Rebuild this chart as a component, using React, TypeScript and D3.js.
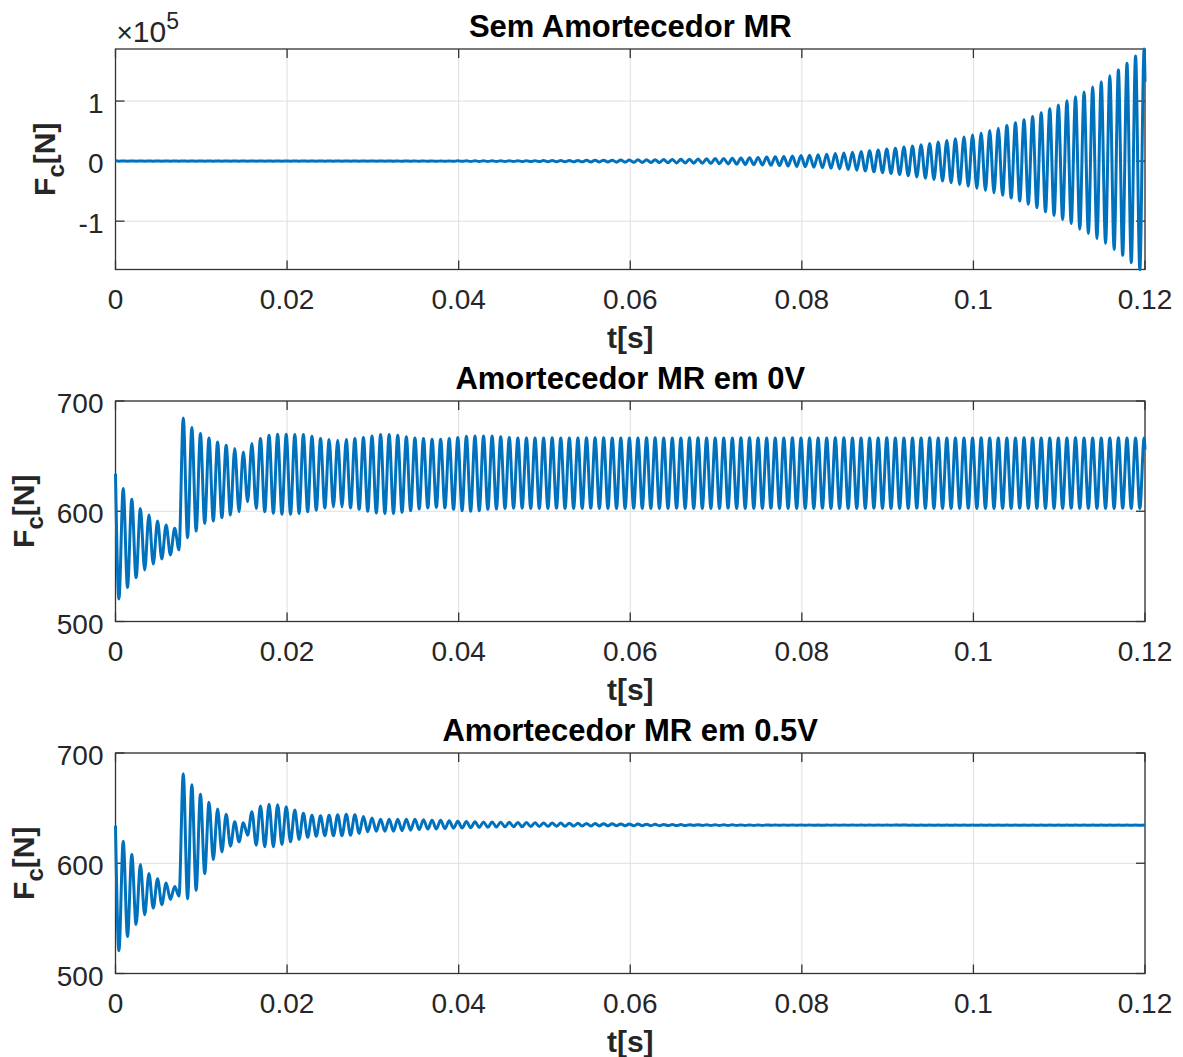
import React from "react";
import * as d3 from "d3";

// ---------------- data ----------------
const T_END = 0.12; // s
const PERIOD = 0.001; // s, oscillation period (about 120 cycles over 0.12 s)
const FIRST_TROUGH = 0.0004; // s, time of the first trough

const titles = ["Sem Amortecedor MR", "Amortecedor MR em 0V", "Amortecedor MR em 0.5V"];
const xTicks = [0, 0.02, 0.04, 0.06, 0.08, 0.1, 0.12];
const xTickLabels = ["0", "0.02", "0.04", "0.06", "0.08", "0.1", "0.12"];
const xLabel = "t[s]";
const sub1YTicks = [-1, 0, 1]; // ×10^5
const sub1YDomain = [-1.805, 1.867];
const mrYTicks = [500, 600, 700];
const mrYDomain = [500, 700];

// Subplot 1 (×10^5 N): start value, per-cycle troughs and peaks, end value
const sub1Start = 0.00634;
const sub1End = 1.32;
const sub1Troughs = [
  -0.001, -0.001, -0.001, -0.001, -0.001, -0.001, -0.001, -0.001, -0.001, -0.001,
  -0.001, -0.001, -0.0011, -0.0011, -0.0012, -0.0012, -0.0013, -0.0013, -0.0014, -0.0014,
  -0.0015, -0.0016, -0.0016, -0.0017, -0.0018, -0.0019, -0.002, -0.0021, -0.0022, -0.0023,
  -0.0024, -0.0025, -0.0027, -0.0029, -0.003, -0.0032, -0.0034, -0.0036, -0.0038, -0.004,
  -0.0042, -0.0045, -0.0048, -0.0052, -0.0056, -0.0061, -0.0066, -0.0071, -0.0077, -0.0083,
  -0.009, -0.0097, -0.0105, -0.0115, -0.0125, -0.0135, -0.0145, -0.0155, -0.017, -0.0185,
  -0.02, -0.0215, -0.023, -0.025, -0.027, -0.0295, -0.032, -0.0345, -0.0375, -0.0405,
  -0.0435, -0.047, -0.051, -0.055, -0.0595, -0.0645, -0.0695, -0.075, -0.0815, -0.0885,
  -0.0955, -0.103, -0.111, -0.12, -0.13, -0.14, -0.152, -0.164, -0.178, -0.192,
  -0.208, -0.225, -0.243, -0.263, -0.284, -0.307, -0.332, -0.359, -0.388, -0.419,
  -0.453, -0.489, -0.528, -0.57, -0.616, -0.665, -0.717, -0.775, -0.844, -0.906,
  -0.972, -1.039, -1.133, -1.206, -1.289, -1.372, -1.472, -1.572, -1.689, -1.806,
];
const sub1Peaks = [
  0.001, 0.001, 0.001, 0.001, 0.001, 0.001, 0.001, 0.001, 0.001, 0.001,
  0.001, 0.001, 0.0011, 0.0011, 0.0012, 0.0012, 0.0013, 0.0013, 0.0014, 0.0015,
  0.0016, 0.0016, 0.0017, 0.0018, 0.0019, 0.002, 0.0021, 0.0022, 0.0023, 0.0024,
  0.0025, 0.0026, 0.0028, 0.003, 0.0031, 0.0033, 0.0035, 0.0037, 0.0039, 0.0041,
  0.0043, 0.0047, 0.005, 0.0054, 0.0059, 0.0064, 0.0069, 0.0074, 0.008, 0.0087,
  0.0094, 0.01, 0.011, 0.012, 0.013, 0.014, 0.015, 0.016, 0.018, 0.019,
  0.021, 0.022, 0.024, 0.026, 0.028, 0.031, 0.033, 0.036, 0.039, 0.042,
  0.045, 0.049, 0.053, 0.057, 0.062, 0.067, 0.072, 0.078, 0.085, 0.092,
  0.099, 0.107, 0.116, 0.125, 0.135, 0.146, 0.158, 0.171, 0.185, 0.2,
  0.216, 0.234, 0.253, 0.273, 0.295, 0.319, 0.345, 0.373, 0.403, 0.436,
  0.47, 0.508, 0.548, 0.592, 0.64, 0.69, 0.745, 0.806, 0.872, 0.933,
  1.006, 1.072, 1.15, 1.233, 1.322, 1.422, 1.517, 1.628, 1.75, 1.867,
];

// Subplot 2 (N): MR damper at 0 V
const sub2Start = 634;
const sub2End = 656;
const sub2Troughs = [
  520.5, 530.8, 539.8, 546.8, 552.2, 556.7, 560.4, 564.9, 576, 582,
  589, 591.1, 594.1, 596.6, 599.6, 608.6, 602.6, 599.6, 598.1, 597.2,
  597.2, 598, 599.5, 601, 603, 604, 604, 603, 601.5, 600,
  598.5, 598, 598, 599, 600.5, 602, 603, 603.5, 603, 601.5,
  600.5, 600, 600.5, 601.5, 602, 602.5, 602.8, 602.8, 602.6, 602.5,
  602.6, 602.7, 602.6, 602.5, 602.6, 602.7, 602.6, 602.5, 602.5, 602.6,
  602.7, 602.6, 602.6, 602.5, 602.6, 602.7, 602.6, 602.6, 602.5, 602.6,
  602.6, 602.7, 602.6, 602.5, 602.6, 602.6, 602.7, 602.6, 602.6, 602.5,
  602.6, 602.6, 602.7, 602.6, 602.5, 602.6, 602.6, 602.6, 602.7, 602.6,
  602.5, 602.6, 602.6, 602.7, 602.6, 602.6, 602.5, 602.6, 602.6, 602.7,
  602.6, 602.6, 602.5, 602.6, 602.6, 602.7, 602.6, 602.6, 602.5, 602.6,
  602.6, 602.7, 602.6, 602.6, 602.5, 602.6, 602.6, 602.7, 602.6, 602.6,
];
const sub2Peaks = [
  620.7, 610.8, 602.6, 596.6, 591.1, 587.5, 584.5, 684.6, 675.9, 670.5,
  666.5, 662.9, 659.9, 656.9, 653.8, 661.4, 666, 669, 669.9, 669.9,
  669.6, 669.6, 668, 666, 665, 664.4, 665, 666, 666.9, 668.3,
  669.6, 669.6, 669, 667.5, 666.5, 666, 665.4, 665.4, 666, 666.9,
  668, 668.3, 668.3, 668.3, 667.5, 667, 666.5, 666.5, 666.5, 666.5,
  666.6, 666.5, 666.4, 666.5, 666.6, 666.7, 666.6, 666.5, 666.4, 666.4,
  666.5, 666.6, 666.6, 666.5, 666.4, 666.5, 666.6, 666.6, 666.5, 666.5,
  666.4, 666.5, 666.6, 666.6, 666.5, 666.4, 666.5, 666.5, 666.6, 666.5,
  666.5, 666.4, 666.5, 666.6, 666.6, 666.5, 666.5, 666.4, 666.5, 666.6,
  666.5, 666.5, 666.4, 666.5, 666.6, 666.5, 666.5, 666.5, 666.4, 666.5,
  666.6, 666.5, 666.5, 666.4, 666.5, 666.6, 666.5, 666.5, 666.5, 666.4,
  666.5, 666.6, 666.5, 666.5, 666.4, 666.5, 666.6, 666.5, 666.5, 666.5,
];

// Subplot 3 (N): MR damper at 0.5 V
const sub3Start = 634;
const sub3End = 634.6;
const sub3Troughs = [
  520.7, 533.5, 544.4, 553.2, 559.3, 562.4, 567.2, 570.2, 567.8, 575.4,
  590.6, 603.4, 610.3, 615.5, 619.4, 625.5, 616.4, 614.9, 614.9, 617,
  619.4, 621.6, 623.5, 624.5, 625, 625, 625, 625.5, 627, 628.5,
  629, 629, 629, 629.5, 630, 630.5, 631, 631, 631.5, 631.8,
  632, 632.2, 632.5, 632.6, 632.8, 633, 633.1, 633.2, 633.3, 633.4,
  633.5, 633.6, 633.6, 633.7, 633.8, 633.8, 633.9, 633.9, 634, 634,
  634, 634.1, 634.1, 634.1, 634.2, 634.2, 634.2, 634.3, 634.3, 634.3,
  634.3, 634.3, 634.35, 634.35, 634.35, 634.35, 634.4, 634.4, 634.4, 634.4,
  634.4, 634.4, 634.4, 634.45, 634.45, 634.45, 634.45, 634.45, 634.45, 634.45,
  634.45, 634.5, 634.5, 634.5, 634.5, 634.5, 634.5, 634.5, 634.5, 634.5,
  634.5, 634.5, 634.5, 634.5, 634.5, 634.5, 634.5, 634.5, 634.5, 634.5,
  634.5, 634.5, 634.5, 634.5, 634.5, 634.5, 634.5, 634.5, 634.5, 634.5,
];
const sub3Peaks = [
  620, 607.9, 598.8, 590.6, 586, 582, 579, 681.1, 671.1, 662.6,
  655.3, 649.2, 644.4, 637.6, 636.7, 646.8, 652, 653.5, 653, 651.3,
  648.3, 645.3, 643.5, 643, 643.5, 644, 644.5, 644, 642.5, 641,
  640, 640, 640, 640, 640, 639.5, 639, 639, 638.5, 638,
  637.8, 637.6, 637.5, 637.4, 637.3, 637.2, 637, 637, 636.8, 636.6,
  636.5, 636.4, 636.3, 636.2, 636.1, 636, 635.9, 635.8, 635.7, 635.6,
  635.5, 635.4, 635.3, 635.2, 635.1, 635.1, 635, 635, 634.9, 634.9,
  634.85, 634.85, 634.8, 634.8, 634.8, 634.8, 634.75, 634.75, 634.75, 634.75,
  634.75, 634.7, 634.7, 634.7, 634.7, 634.7, 634.7, 634.7, 634.7, 634.7,
  634.7, 634.7, 634.65, 634.65, 634.65, 634.65, 634.65, 634.65, 634.65, 634.65,
  634.65, 634.65, 634.65, 634.65, 634.65, 634.65, 634.65, 634.65, 634.65, 634.65,
  634.65, 634.65, 634.65, 634.65, 634.65, 634.65, 634.65, 634.65, 634.65, 634.65,
];

// ---------------- helpers ----------------
type Pt = [number, number];
function buildSeries(start: number, troughs: number[], peaks: number[], end: number): Pt[] {
  const pts: Pt[] = [[0, start]];
  troughs.forEach((v, k) => {
    pts.push([FIRST_TROUGH + k * PERIOD, v]);
    pts.push([FIRST_TROUGH + PERIOD / 2 + k * PERIOD, peaks[k]]);
  });
  pts.push([T_END, end]);
  return pts;
}

const FONT = "'Liberation Sans', Arial, Helvetica, sans-serif";
const TXT = "#262626";
const LINE = "#0072BD";
const GRID = "#dedede";
const AX = "#333333";

const W = 1183;
const H = 1057;
const LEFT = 115.5;
const RIGHT = 1145;
const PANEL_H = 220.5;
const TOPS = [49, 401, 753];

type PanelProps = {
  idx: number;
  top: number;
  title: string;
  data: Pt[];
  yDomain: number[];
  yTicks: number[];
  ylabelX: number;
  exponent?: boolean;
};

function Panel({ idx, top, title, data, yDomain, yTicks, ylabelX, exponent }: PanelProps) {
  const bottom = top + PANEL_H;
  const x = d3.scaleLinear().domain([0, T_END]).range([LEFT, RIGHT]);
  const y = d3.scaleLinear().domain(yDomain).range([bottom, top]);
  const line = d3
    .line<Pt>()
    .x((d) => x(d[0]))
    .y((d) => y(d[1]))
    .curve(d3.curveMonotoneX);
  const clipId = `clip-${idx}`;
  const tickLen = 9;
  const yMid = (top + bottom) / 2;
  return (
    <g>
      <defs>
        <clipPath id={clipId}>
          <rect x={LEFT - 2} y={top - 2} width={RIGHT - LEFT + 4} height={PANEL_H + 4} />
        </clipPath>
      </defs>
      <rect x={LEFT} y={top} width={RIGHT - LEFT} height={PANEL_H} fill="#fff" />
      {/* grid */}
      {xTicks.map((t, i) => (
        <line key={"gx" + i} x1={x(t)} x2={x(t)} y1={top} y2={bottom} stroke={GRID} strokeWidth={1} />
      ))}
      {yTicks.map((t, i) => (
        <line key={"gy" + i} x1={LEFT} x2={RIGHT} y1={y(t)} y2={y(t)} stroke={GRID} strokeWidth={1} />
      ))}
      {/* box + ticks */}
      <rect x={LEFT} y={top} width={RIGHT - LEFT} height={PANEL_H} fill="none" stroke={AX} strokeWidth={1.3} />
      {xTicks.map((t, i) => (
        <g key={"tx" + i}>
          <line x1={x(t)} x2={x(t)} y1={bottom} y2={bottom - tickLen} stroke={AX} strokeWidth={1.3} />
          <line x1={x(t)} x2={x(t)} y1={top} y2={top + tickLen} stroke={AX} strokeWidth={1.3} />
        </g>
      ))}
      {yTicks.map((t, i) => (
        <g key={"ty" + i}>
          <line x1={LEFT} x2={LEFT + tickLen} y1={y(t)} y2={y(t)} stroke={AX} strokeWidth={1.3} />
          <line x1={RIGHT} x2={RIGHT - tickLen} y1={y(t)} y2={y(t)} stroke={AX} strokeWidth={1.3} />
        </g>
      ))}
      {/* data */}
      <path d={line(data) || ""} fill="none" stroke={LINE} strokeWidth={3} strokeLinejoin="round" clipPath={`url(#${clipId})`} />
      {/* tick labels */}
      {xTicks.map((t, i) => (
        <text key={"lx" + i} x={x(t)} y={bottom + 39} textAnchor="middle" fontSize={28} fill={TXT}>
          {xTickLabels[i]}
        </text>
      ))}
      {yTicks.map((t, i) => (
        <text key={"ly" + i} x={LEFT - 12} y={y(t) + 12} textAnchor="end" fontSize={28} fill={TXT}>
          {String(t)}
        </text>
      ))}
      {/* x label */}
      <text x={(LEFT + RIGHT) / 2} y={bottom + 78} textAnchor="middle" fontSize={30} fontWeight="bold" fill={TXT}>
        {xLabel}
      </text>
      {/* title */}
      <text x={(LEFT + RIGHT) / 2} y={top - 12} textAnchor="middle" fontSize={31} fontWeight="bold" fill="#000">
        {title}
      </text>
      {/* y label */}
      <text
        transform={`translate(${ylabelX},${yMid}) rotate(-90)`}
        textAnchor="middle"
        fontSize={30}
        fontWeight="bold"
        fill={TXT}
      >
        <tspan>F</tspan>
        <tspan dy={9} fontSize={24}>c</tspan>
        <tspan dy={-9}>[N]</tspan>
      </text>
      {exponent && (
        <text x={LEFT + 1} y={top - 7} fontSize={30} fill={TXT}>
          <tspan fontSize={28}>×</tspan>
          <tspan>10</tspan>
          <tspan dy={-13} fontSize={23}>5</tspan>
        </text>
      )}
    </g>
  );
}

export default function App() {
  const s1 = buildSeries(sub1Start, sub1Troughs, sub1Peaks, sub1End);
  const s2 = buildSeries(sub2Start, sub2Troughs, sub2Peaks, sub2End);
  const s3 = buildSeries(sub3Start, sub3Troughs, sub3Peaks, sub3End);
  return (
    <svg
      width={W}
      height={H}
      style={{ position: "absolute", left: 0, top: 0, background: "#fff", fontFamily: FONT }}
    >
      <rect x={0} y={0} width={W} height={H} fill="#fff" />
      <Panel idx={0} top={TOPS[0]} title={titles[0]} data={s1} yDomain={sub1YDomain} yTicks={sub1YTicks} ylabelX={55} exponent />
      <Panel idx={1} top={TOPS[1]} title={titles[1]} data={s2} yDomain={mrYDomain} yTicks={mrYTicks} ylabelX={34} />
      <Panel idx={2} top={TOPS[2]} title={titles[2]} data={s3} yDomain={mrYDomain} yTicks={mrYTicks} ylabelX={34} />
    </svg>
  );
}
